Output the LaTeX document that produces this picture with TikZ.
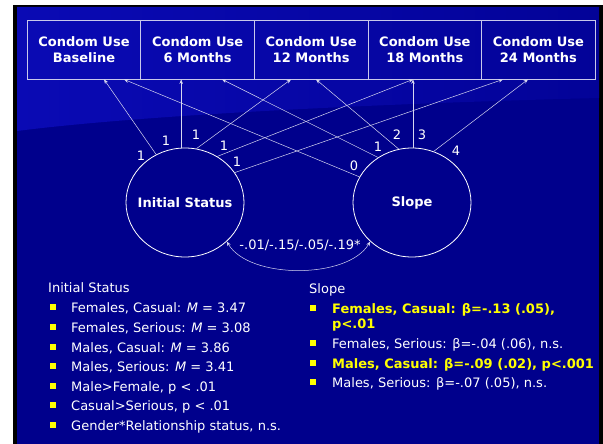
\documentclass[tikz,border=0pt]{standalone}
\usepackage{fontspec}
\setmainfont{DejaVu Sans}
\usetikzlibrary{shapes.geometric,arrows.meta,calc}
\definecolor{bgblue}{RGB}{0,0,140}
\definecolor{topblue}{RGB}{10,10,180}
\definecolor{boxline}{RGB}{200,200,235}
\definecolor{lineclr}{RGB}{215,215,240}
\definecolor{yel}{RGB}{255,255,0}
\begin{document}
\begin{tikzpicture}[x=1pt,y=-1pt,
  font=\fontsize{13}{15.6}\selectfont,
  box/.style={draw=boxline, line width=0.8pt, minimum width=113.6pt, minimum height=59pt,
    inner sep=0pt, align=center, text=white, font=\fontsize{13}{16}\selectfont\bfseries},
  latent/.style={ellipse, draw=white, line width=0.8pt, minimum width=118pt,
    minimum height=109pt, inner sep=0pt},
  latlabel/.style={text=white, inner sep=0pt, font=\fontsize{13}{15.6}\selectfont\bfseries},
  patharrow/.style={draw=lineclr, line width=0.5pt, -{Stealth[length=4.5pt,width=3.5pt]}},
  coef/.style={text=white, inner sep=0pt},
  bul/.style={fill=yel, minimum size=6pt, inner sep=0pt},
  itemtxt/.style={anchor=base west, inner sep=0pt, text=white},
  hltxt/.style={itemtxt, text=yel, font=\fontsize{13}{15.6}\selectfont\bfseries}
]
% background
\useasboundingbox (0,0) rectangle (603,444);
\fill[white] (0,0) rectangle (603,444);
\fill[black] (13,5) rectangle (603,444);
\fill[bgblue] (17,7) rectangle (599,444);
\shade[left color=topblue, right color=bgblue!70!topblue]
  (17,7) -- (599,7) -- (599,98) .. controls (400,103) and (150,114) .. (17,131) -- cycle;

% boxes
\node[box] (b1) at (84,49.5) {Condom Use\\Baseline};
\node[box] (b2) at (197.6,49.5) {Condom Use\\6 Months};
\node[box] (b3) at (311.2,49.5) {Condom Use\\12 Months};
\node[box] (b4) at (424.8,49.5) {Condom Use\\18 Months};
\node[box] (b5) at (538.4,49.5) {Condom Use\\24 Months};

% latent factors
\node[latent] (is) at (185,202.5) {};
\node[latent] (sl) at (412,202.5) {};
\node[latlabel] (istxt) at (is.center) {Initial Status};
\node[latlabel] (sltxt) at (sl.center) {Slope};

% loadings from Initial Status
\draw[patharrow] (is.121) -- ([xshift=20pt]b1.south);
\draw[patharrow] (is.94) -- (is.94 |- b2.south);
\draw[patharrow] (is.78.6) -- ([xshift=-20.2pt]b3.south);
\draw[patharrow] (is.55.5) -- ([xshift=-11.8pt]b4.south);
\draw[patharrow] (is.31.4) -- ([xshift=-35.4pt]b5.south);
% loadings from Slope
\draw[patharrow] (sl.154.7) -- ([xshift=40pt]b1.south);
\draw[patharrow] (sl.127.6) -- ([xshift=24.4pt]b2.south);
\draw[patharrow] (sl.104.4) -- ([xshift=4.8pt]b3.south);
\draw[patharrow] (sl.89) -- (sl.89 |- b4.south);
\draw[patharrow] (sl.67.6) -- ([xshift=-10.4pt]b5.south);

% loading labels
\node[coef] (l1) at (141,156) {1};
\node[coef] (l2) at (166,141) {1};
\node[coef] (l3) at (196,135) {1};
\node[coef] (l4) at (224,146) {1};
\node[coef] (l5) at (237,162) {1};
\node[coef] (l6) at (354,166) {0};
\node[coef] (l7) at (378,147) {1};
\node[coef] (l8) at (397,135) {2};
\node[coef] (l9) at (422,135) {3};
\node[coef] (l10) at (456,151) {4};

% covariance
\draw[draw=lineclr, line width=0.5pt, {Stealth[length=4.5pt,width=3.5pt]}-{Stealth[length=4.5pt,width=3.5pt]}]
  (is.-43) .. controls +(22,38) and +(-22,38) .. (sl.-137);
\node[coef] (cov) at (300,245) {-.01/-.15/-.05/-.19*};

% Initial Status list
\node[itemtxt] (ish) at (48,292) {Initial Status};
\node[bul] (ib1) at (53,307) {};
\node[itemtxt] (it1) at (71,312) {Females, Casual: \textit{M} = 3.47};
\node[bul] (ib2) at (53,327) {};
\node[itemtxt] (it2) at (71,332) {Females, Serious: \textit{M} = 3.08};
\node[bul] (ib3) at (53,347) {};
\node[itemtxt] (it3) at (71,352) {Males, Casual: \textit{M} = 3.86};
\node[bul] (ib4) at (53,366) {};
\node[itemtxt] (it4) at (71,371) {Males, Serious: \textit{M} = 3.41};
\node[bul] (ib5) at (53,386) {};
\node[itemtxt] (it5) at (71,391) {Male>Female, p < .01};
\node[bul] (ib6) at (53,405) {};
\node[itemtxt] (it6) at (71,410) {Casual>Serious, p < .01};
\node[bul] (ib7) at (53,425) {};
\node[itemtxt] (it7) at (71,430) {Gender*Relationship status, n.s.};

% Slope list
\node[itemtxt] (slh) at (309,293) {Slope};
\node[bul] (sb1) at (313,308) {};
\node[hltxt] (st1) at (332,313) {Females, Casual: β=-.13 (.05),};
\node[hltxt] (st1b) at (332,328) {p<.01};
\node[bul] (sb2) at (313,343) {};
\node[itemtxt] (st2) at (332,348) {Females, Serious: β=-.04 (.06), n.s.};
\node[bul] (sb3) at (313,363) {};
\node[hltxt] (st3) at (332,368) {Males, Casual: β=-.09 (.02), p<.001};
\node[bul] (sb4) at (313,382) {};
\node[itemtxt] (st4) at (332,387) {Males, Serious: β=-.07 (.05), n.s.};
\end{tikzpicture}
\end{document}
